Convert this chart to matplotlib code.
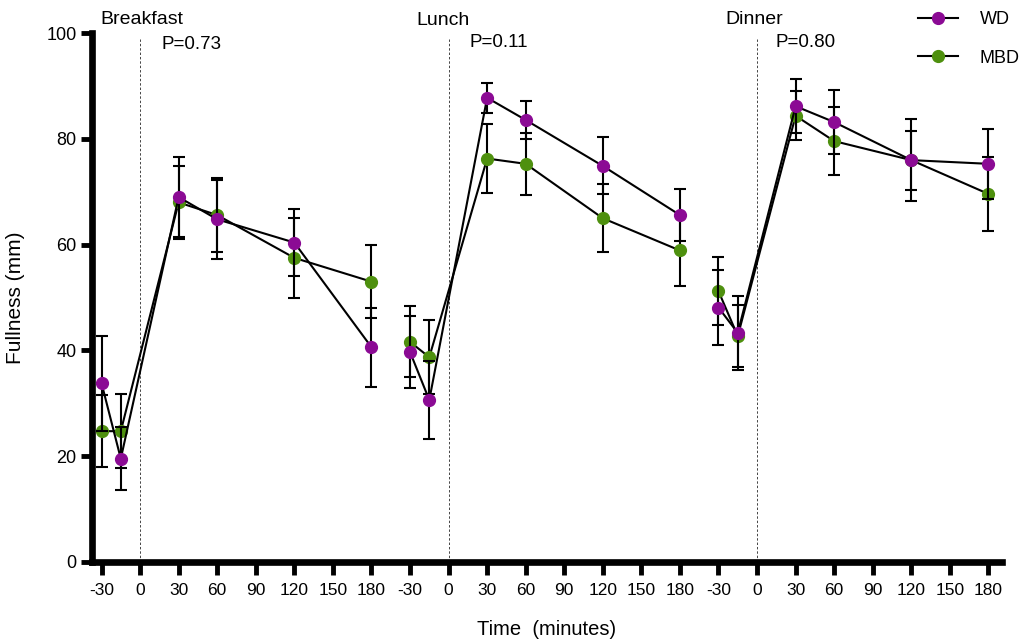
import numpy as np
import matplotlib
matplotlib.use("Agg")
import matplotlib.pyplot as plt
import matplotlib.transforms as mtransforms
from matplotlib.lines import Line2D

plt.rcParams["font.family"] = ["Liberation Sans", "DejaVu Sans"]

# Sampling times (minutes relative to the meal) and meal labels
times = [-30, -15, 30, 60, 120, 180]
tick_times = [-30, 0, 30, 60, 90, 120, 150, 180]
meals = ["Breakfast", "Lunch", "Dinner"]
p_values = ["P=0.73", "P=0.11", "P=0.80"]

# Fullness (mm), mean and SEM
wd_breakfast = [33.8, 19.5, 69.0, 64.8, 60.4, 40.6]
wd_breakfast_sem = [9.0, 6.0, 7.5, 7.5, 6.3, 7.5]
mbd_breakfast = [24.7, 24.7, 68.0, 65.6, 57.5, 53.0]
mbd_breakfast_sem = [6.8, 7.0, 6.9, 7.0, 7.5, 6.9]

wd_lunch = [39.7, 30.6, 87.8, 83.6, 74.9, 65.6]
wd_lunch_sem = [6.8, 7.3, 2.8, 3.6, 5.4, 5.0]
mbd_lunch = [41.6, 38.7, 76.3, 75.3, 65.0, 58.9]
mbd_lunch_sem = [6.7, 7.0, 6.5, 5.9, 6.4, 6.7]

wd_dinner = [48.1, 43.3, 86.2, 83.2, 76.0, 75.3]
wd_dinner_sem = [7.1, 7.0, 5.1, 6.0, 7.7, 6.6]
mbd_dinner = [51.2, 42.7, 84.4, 79.6, 76.0, 69.6]
mbd_dinner_sem = [6.4, 5.9, 4.6, 6.5, 5.6, 7.0]

wd = [wd_breakfast, wd_lunch, wd_dinner]
wd_sem = [wd_breakfast_sem, wd_lunch_sem, wd_dinner_sem]
mbd = [mbd_breakfast, mbd_lunch, mbd_dinner]
mbd_sem = [mbd_breakfast_sem, mbd_lunch_sem, mbd_dinner_sem]

purple = "#8B0A94"
green = "#4E900E"
offset = 240  # each meal panel is shifted along the shared x axis

fig = plt.figure(figsize=(10.32, 6.42), dpi=100)
ax = fig.add_axes([0.0889, 0.1251, 0.8817, 0.8230])

tr = mtransforms.blended_transform_factory(ax.transData, ax.transAxes)
style = dict(marker="o", markersize=8.5, color="black", lw=1.5,
             ecolor="black", elinewidth=1.5, capsize=4, capthick=1.5)

title_x = [-31, 215, 455]
p_x = [17, 256, 494]
title_y = [1.026, 1.025, 1.027]
p_y = [0.979, 0.983, 0.982]

for i in range(3):
    x = np.array(times) + i * offset
    ax.errorbar(x, mbd[i], yerr=mbd_sem[i], mfc=green, mec=green, zorder=3, **style)
    ax.errorbar(x, wd[i], yerr=wd_sem[i], mfc=purple, mec=purple, zorder=4, **style)
    # meal onset
    ax.plot([i * offset, i * offset], [0, 99], ls=(0, (2.5, 2)), lw=0.7,
            color="#444444", zorder=1)
    ax.text(title_x[i], title_y[i], meals[i], transform=tr,
            fontsize=14, va="center", ha="left", clip_on=False)
    ax.text(p_x[i], p_y[i], p_values[i], transform=tr,
            fontsize=13.5, va="center", ha="left")

ticks = [t + i * offset for i in range(3) for t in tick_times]
ax.set_xticks(ticks)
ax.set_xticklabels([str(t) for i in range(3) for t in tick_times])
ax.set_xlim(-37.6, 670.3)
ax.set_ylim(0, 100)
ax.set_yticks([0, 20, 40, 60, 80, 100])

for side in ["top", "right"]:
    ax.spines[side].set_visible(False)
for side in ["left", "bottom"]:
    ax.spines[side].set_linewidth(4.8)
ax.tick_params(axis="x", length=9.5, width=3.5, labelsize=12.5, pad=6)
ax.tick_params(axis="y", length=8, width=3.5, labelsize=13, pad=3)

ax.set_ylabel("Fullness (mm)", fontsize=15)
ax.yaxis.set_label_coords(-0.073, 0.5)
ax.set_xlabel("Time  (minutes)", fontsize=14.5)
ax.xaxis.set_label_coords(0.5, -0.111)

handles = [
    Line2D([], [], color="black", lw=1.5, marker="o", markersize=8.5,
           mfc=purple, mec=purple),
    Line2D([], [], color="black", lw=1.5, marker="o", markersize=8.5,
           mfc=green, mec=green),
]
ax.legend(handles, ["WD", "MBD"], loc="upper left",
          bbox_to_anchor=(0.874, 1.008), bbox_transform=fig.transFigure,
          frameon=False, fontsize=13, handlelength=2.2, handletextpad=1.2,
          labelspacing=1.2)

fig.savefig("out.png", dpi=100)
